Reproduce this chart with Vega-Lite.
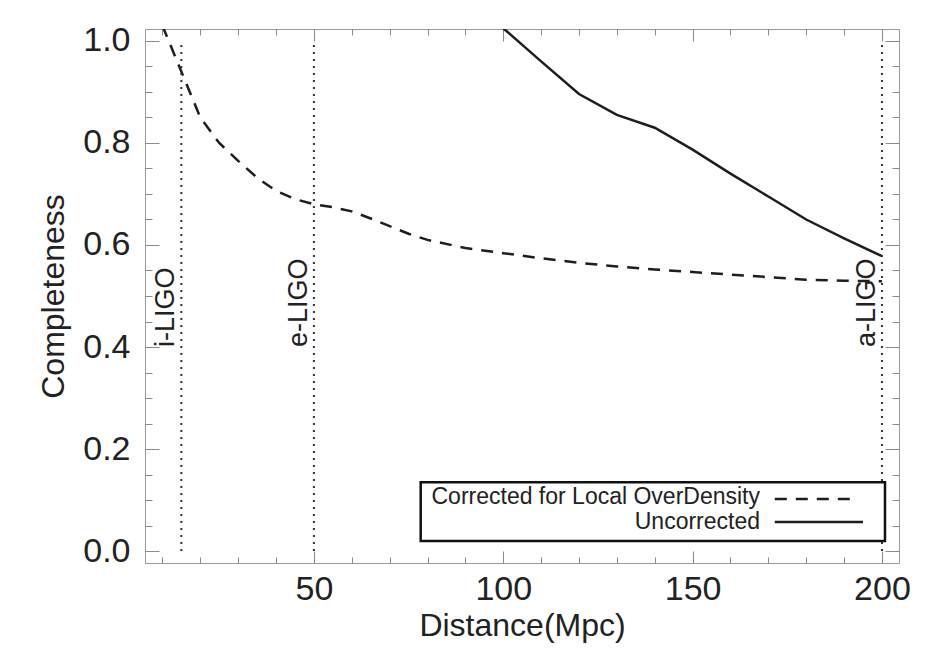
{
  "$schema": "https://vega.github.io/schema/vega-lite/v6.json",
  "width": 754,
  "height": 534,
  "autosize": {"type": "none"},
  "padding": {"left": 145, "top": 29, "right": 29, "bottom": 96},
  "background": "white",
  "config": {
    "view": {"stroke": "#9a9a9a", "strokeWidth": 1},
    "font": "Liberation Sans",
    "axis": {
      "domain": false,
      "grid": false,
      "tickColor": "#8a8a8a",
      "tickWidth": 1,
      "labelFont": "Liberation Sans",
      "labelColor": "#222",
      "labelFontSize": 34,
      "titleFont": "Liberation Sans",
      "titleColor": "#222",
      "titleFontSize": 32,
      "titleFontWeight": "normal"
    }
  },
  "datasets": {
    "curves": [
      {"d": 10, "c": 1.03, "series": "Corrected for Local OverDensity"},
      {"d": 15, "c": 0.94, "series": "Corrected for Local OverDensity"},
      {"d": 20, "c": 0.85, "series": "Corrected for Local OverDensity"},
      {"d": 25, "c": 0.8, "series": "Corrected for Local OverDensity"},
      {"d": 30, "c": 0.765, "series": "Corrected for Local OverDensity"},
      {"d": 35, "c": 0.732, "series": "Corrected for Local OverDensity"},
      {"d": 40, "c": 0.706, "series": "Corrected for Local OverDensity"},
      {"d": 45, "c": 0.69, "series": "Corrected for Local OverDensity"},
      {"d": 50, "c": 0.68, "series": "Corrected for Local OverDensity"},
      {"d": 55, "c": 0.674, "series": "Corrected for Local OverDensity"},
      {"d": 60, "c": 0.666, "series": "Corrected for Local OverDensity"},
      {"d": 65, "c": 0.652, "series": "Corrected for Local OverDensity"},
      {"d": 70, "c": 0.637, "series": "Corrected for Local OverDensity"},
      {"d": 75, "c": 0.622, "series": "Corrected for Local OverDensity"},
      {"d": 80, "c": 0.61, "series": "Corrected for Local OverDensity"},
      {"d": 90, "c": 0.594, "series": "Corrected for Local OverDensity"},
      {"d": 100, "c": 0.584, "series": "Corrected for Local OverDensity"},
      {"d": 110, "c": 0.574, "series": "Corrected for Local OverDensity"},
      {"d": 120, "c": 0.565, "series": "Corrected for Local OverDensity"},
      {"d": 130, "c": 0.558, "series": "Corrected for Local OverDensity"},
      {"d": 140, "c": 0.552, "series": "Corrected for Local OverDensity"},
      {"d": 150, "c": 0.547, "series": "Corrected for Local OverDensity"},
      {"d": 160, "c": 0.542, "series": "Corrected for Local OverDensity"},
      {"d": 170, "c": 0.537, "series": "Corrected for Local OverDensity"},
      {"d": 180, "c": 0.532, "series": "Corrected for Local OverDensity"},
      {"d": 190, "c": 0.53, "series": "Corrected for Local OverDensity"},
      {"d": 200, "c": 0.529, "series": "Corrected for Local OverDensity"},
      {"d": 100, "c": 1.025, "series": "Uncorrected"},
      {"d": 110, "c": 0.96, "series": "Uncorrected"},
      {"d": 120, "c": 0.896, "series": "Uncorrected"},
      {"d": 130, "c": 0.855, "series": "Uncorrected"},
      {"d": 140, "c": 0.83, "series": "Uncorrected"},
      {"d": 150, "c": 0.787, "series": "Uncorrected"},
      {"d": 160, "c": 0.74, "series": "Uncorrected"},
      {"d": 170, "c": 0.695, "series": "Uncorrected"},
      {"d": 180, "c": 0.65, "series": "Uncorrected"},
      {"d": 190, "c": 0.613, "series": "Uncorrected"},
      {"d": 200, "c": 0.578, "series": "Uncorrected"}
    ],
    "detectors": [
      {"d": 15, "name": "i-LIGO", "lo": 0, "hi": 1, "labelAt": 0.4},
      {"d": 50, "name": "e-LIGO", "lo": 0, "hi": 1, "labelAt": 0.4},
      {"d": 200, "name": "a-LIGO", "lo": 0, "hi": 1, "labelAt": 0.4}
    ]
  },
  "resolve": {
    "scale": {"x": "shared", "y": "shared"},
    "axis": {"x": "independent", "y": "independent"}
  },
  "layer": [
    {
      "data": {"name": "curves"},
      "transform": [{"filter": "datum.series === 'Corrected for Local OverDensity'"}],
      "mark": {"type": "line", "clip": true, "color": "#1e1e1e", "strokeWidth": 2.5, "strokeDash": [12, 9]},
      "encoding": {
        "x": {
          "field": "d", "type": "quantitative",
          "scale": {"domain": [5.4, 204.5], "nice": false, "zero": false},
          "axis": {"orient": "bottom", "values": [50, 100, 150, 200], "tickSize": -12, "labelPadding": 21, "title": "Distance(Mpc)", "titlePadding": 4}
        },
        "y": {
          "field": "c", "type": "quantitative",
          "scale": {"domain": [-0.0235, 1.0235], "nice": false, "zero": false},
          "axis": {"orient": "left", "values": [0, 0.2, 0.4, 0.6, 0.8, 1.0], "format": ".1f", "tickSize": -14, "labelPadding": 29, "title": "Completeness", "titlePadding": 12}
        }
      }
    },
    {
      "data": {"name": "curves"},
      "transform": [{"filter": "datum.series === 'Uncorrected'"}],
      "mark": {"type": "line", "clip": true, "color": "#1e1e1e", "strokeWidth": 2.5},
      "encoding": {
        "x": {
          "field": "d", "type": "quantitative",
          "axis": {"orient": "bottom", "values": [10, 20, 30, 40, 60, 70, 80, 90, 110, 120, 130, 140, 160, 170, 180, 190], "tickSize": -6, "labels": false, "title": null}
        },
        "y": {
          "field": "c", "type": "quantitative",
          "axis": {"orient": "left", "values": [0.05, 0.1, 0.15, 0.25, 0.3, 0.35, 0.45, 0.5, 0.55, 0.65, 0.7, 0.75, 0.85, 0.9, 0.95], "tickSize": -7, "labels": false, "title": null}
        }
      }
    },
    {
      "data": {"name": "detectors"},
      "mark": {"type": "rule", "color": "#333", "strokeWidth": 2, "strokeDash": [2, 5]},
      "encoding": {
        "x": {
          "field": "d", "type": "quantitative",
          "axis": {"orient": "top", "values": [50, 100, 150, 200], "tickSize": -12, "labels": false, "title": null}
        },
        "y": {
          "field": "lo", "type": "quantitative",
          "axis": {"orient": "right", "values": [0, 0.2, 0.4, 0.6, 0.8, 1.0], "tickSize": -14, "labels": false, "title": null}
        },
        "y2": {"field": "hi"}
      }
    },
    {
      "data": {"name": "detectors"},
      "mark": {"type": "text", "angle": 270, "align": "left", "baseline": "alphabetic", "dy": -7, "fontSize": 27, "font": "Liberation Sans", "color": "#222"},
      "encoding": {
        "x": {
          "field": "d", "type": "quantitative",
          "axis": {"orient": "top", "values": [10, 20, 30, 40, 60, 70, 80, 90, 110, 120, 130, 140, 160, 170, 180, 190], "tickSize": -6, "labels": false, "title": null}
        },
        "y": {
          "field": "labelAt", "type": "quantitative",
          "axis": {"orient": "right", "values": [0.05, 0.1, 0.15, 0.25, 0.3, 0.35, 0.45, 0.5, 0.55, 0.65, 0.7, 0.75, 0.85, 0.9, 0.95], "tickSize": -7, "labels": false, "title": null}
        },
        "text": {"field": "name"}
      }
    },
    {
      "data": {"values": [{"legend": "box"}]},
      "mark": {"type": "rect", "fill": "white", "stroke": "#111", "strokeWidth": 2.5},
      "encoding": {
        "x": {"datum": 78.2, "type": "quantitative", "axis": null},
        "x2": {"datum": 200.8},
        "y": {"datum": 0.0196, "type": "quantitative", "axis": null},
        "y2": {"datum": 0.135}
      }
    },
    {
      "data": {"values": [
        {"series": "Corrected for Local OverDensity", "labelEnd": 167.8, "textY": 0.092},
        {"series": "Uncorrected", "labelEnd": 167.8, "textY": 0.043}
      ]},
      "mark": {"type": "text", "align": "right", "baseline": "alphabetic", "fontSize": 23, "font": "Liberation Sans", "color": "#222"},
      "encoding": {
        "x": {"field": "labelEnd", "type": "quantitative", "axis": null},
        "y": {"field": "textY", "type": "quantitative", "axis": null},
        "text": {"field": "series"}
      }
    },
    {
      "data": {"values": [
        {"series": "Corrected for Local OverDensity", "s0": 171.7, "s1": 192.3, "sy": 0.102},
        {"series": "Uncorrected", "s0": 171.7, "s1": 195, "sy": 0.057}
      ]},
      "mark": {"type": "rule", "color": "#1e1e1e", "strokeWidth": 2.5},
      "encoding": {
        "x": {"field": "s0", "type": "quantitative", "axis": null},
        "x2": {"field": "s1"},
        "y": {"field": "sy", "type": "quantitative", "axis": null},
        "strokeDash": {
          "field": "series", "type": "nominal",
          "scale": {"domain": ["Corrected for Local OverDensity", "Uncorrected"], "range": [[12, 9], [1, 0]]},
          "legend": null
        }
      }
    }
  ]
}
